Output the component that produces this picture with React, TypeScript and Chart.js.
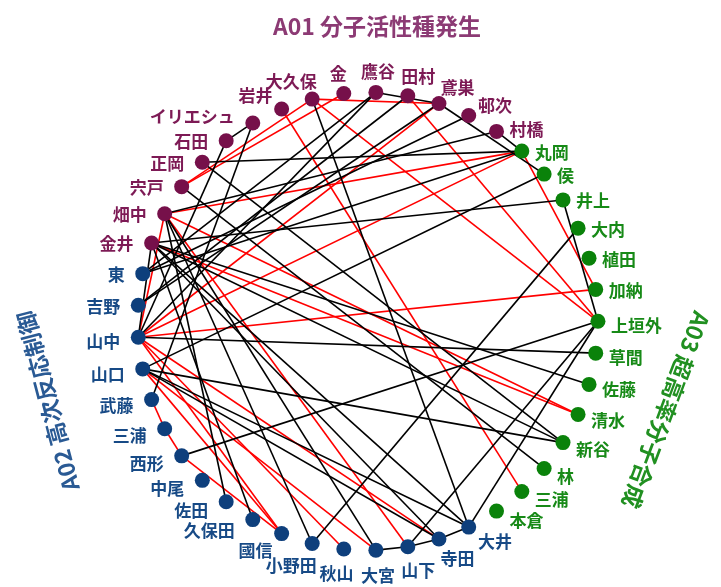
import React, { useEffect, useRef } from "react";
import { Chart, registerables } from "chart.js";

Chart.register(...registerables);

// ---- data ----
const nodeIds = [
  "金井", "畑中", "宍戸", "正岡", "石田", "イリエシュ", "岩井", "大久保", "金", "鷹谷", "田村", "鳶巣", "邨次", "村橋",
  "丸岡", "侯", "井上", "大内", "植田", "加納", "上垣外", "草間", "佐藤", "清水", "新谷", "林", "三浦(A03)", "本倉",
  "大井", "寺田", "山下", "大宮", "秋山", "小野田", "國信", "久保田", "佐田", "中尾", "西形", "三浦(A02)", "武藤", "山口", "山中", "吉野", "東",
];
const nodeLabels = nodeIds.map((s) => s.replace(/\(A0\d\)/, ""));
const nodeGroups = [
  "A01", "A01", "A01", "A01", "A01", "A01", "A01", "A01", "A01", "A01", "A01", "A01", "A01", "A01",
  "A03", "A03", "A03", "A03", "A03", "A03", "A03", "A03", "A03", "A03", "A03", "A03", "A03", "A03",
  "A02", "A02", "A02", "A02", "A02", "A02", "A02", "A02", "A02", "A02", "A02", "A02", "A02", "A02", "A02", "A02", "A02",
];
const groupTitles = ["A01 分子活性種発生", "A02 高次反応制御", "A03 超高率分子合成"];

const blackEdges: [string, string][] = [
  ["金井", "井上"], ["井上", "上垣外"], ["大内", "小野田"], ["上垣外", "西形"], ["上垣外", "山下"],
  ["上垣外", "大井"], ["山中", "草間"], ["金井", "佐藤"], ["金井", "新谷"], ["山口", "新谷"],
  ["宍戸", "林"], ["侯", "山口"], ["鳶巣", "侯"], ["村橋", "丸岡"], ["正岡", "丸岡"],
  ["村橋", "畑中"], ["邨次", "東"], ["鳶巣", "吉野"], ["石田", "イリエシュ"], ["イリエシュ", "武藤"],
  ["鷹谷", "鳶巣"], ["金井", "大井"], ["大久保", "大井"], ["大宮", "山下"], ["山下", "寺田"],
  ["寺田", "大井"], ["小野田", "畑中"], ["丸岡", "東"], ["畑中", "佐田"], ["金井", "久保田"],
  ["山口", "寺田"], ["鷹谷", "山中"], ["鷹谷", "東"], ["田村", "吉野"], ["石田", "山中"],
  ["金井", "山中"], ["畑中", "大宮"], ["金井", "寺田"], ["正岡", "新谷"], ["山口", "大井"],
];
const redEdges: [string, string][] = [
  ["大久保", "鳶巣"], ["田村", "上垣外"], ["大久保", "上垣外"], ["丸岡", "加納"], ["丸岡", "畑中"],
  ["丸岡", "山中"], ["加納", "山中"], ["畑中", "清水"], ["金井", "清水"], ["岩井", "三浦(A03)"],
  ["山中", "寺田"], ["山中", "秋山"], ["畑中", "山下"], ["大久保", "宍戸"], ["金", "宍戸"],
  ["武藤", "三浦(A02)"], ["三浦(A02)", "西形"], ["西形", "國信"], ["山口", "國信"], ["山中", "國信"],
  ["畑中", "山中"], ["山口", "大宮"], ["鳶巣", "山中"],
];

// ---- layout / style ----
const W = 721;
const H = 587;
const CX = 368;
const CY = 322;
const R = 235;
const START_DEG = 160;
const STEP_DEG = 360 / nodeIds.length;

const dotColors: Record<string, string> = { A01: "#76104a", A02: "#0e3f7c", A03: "#0a820a" };
const textColors: Record<string, string> = { A01: "#7d1a55", A02: "#174a86", A03: "#178a17" };
const titleColors = ["#8c3a74", "#2a5a94", "#219021"];
const FONT = '"Noto Sans CJK JP", "Noto Sans", sans-serif';

function angleOf(i: number) {
  return ((START_DEG - STEP_DEG * i) * Math.PI) / 180;
}
function posOf(i: number) {
  const a = angleOf(i);
  return { x: Math.cos(a), y: Math.sin(a) };
}
const idx = (id: string) => nodeIds.indexOf(id);
const clamp = (v: number, lo: number, hi: number) => Math.max(lo, Math.min(hi, v));

const labelPlugin = {
  id: "nodeLabels",
  afterDatasetsDraw(chart: any) {
    const { ctx, scales } = chart;
    const xs = scales.x;
    const ys = scales.y;
    ctx.save();
    ctx.font = `bold 17px ${FONT}`;
    ctx.textBaseline = "middle";
    ctx.textAlign = "center";
    nodeIds.forEach((_, i) => {
      const p = posOf(i);
      const px = xs.getPixelForValue(p.x);
      const py = ys.getPixelForValue(p.y);
      const c = p.x;
      const s = p.y;
      const text = nodeLabels[i];
      const w = ctx.measureText(text).width;
      const hx = clamp(2 * c, -1, 1);
      const k = c < 0 ? 18 : 13;
      const cx = px + hx * (w / 2 + k);
      let dy = 0;
      if (s > 0) dy = -22 * clamp((s - 0.8) / 0.2, 0, 1);
      else dy = 3 + 6 * -s + 15 * clamp((-s - 0.85) / 0.15, 0, 1);
      ctx.fillStyle = textColors[nodeGroups[i]];
      ctx.fillText(text, cx, py + dy + 1);
    });
    // group titles
    ctx.font = `bold 23px ${FONT}`;
    const titles = [
      { t: groupTitles[0], x: 377, y: 26, rot: 0, c: titleColors[0] },
      { t: groupTitles[1], x: 48, y: 401, rot: -104.8, c: titleColors[1] },
      { t: groupTitles[2], x: 666, y: 410, rot: 110.5, c: titleColors[2] },
    ];
    titles.forEach((tt) => {
      ctx.save();
      ctx.translate(tt.x, tt.y);
      ctx.rotate((tt.rot * Math.PI) / 180);
      ctx.fillStyle = tt.c;
      ctx.textAlign = "center";
      ctx.textBaseline = "middle";
      ctx.fillText(tt.t, 0, 0);
      ctx.restore();
    });
    ctx.restore();
  },
};

export default function App() {
  const ref = useRef<HTMLCanvasElement | null>(null);
  useEffect(() => {
    if (!ref.current) return;
    const edgeSet = (list: [string, string][], color: string) =>
      list.map(([a, b]) => ({
        type: "line" as const,
        data: [posOf(idx(a)), posOf(idx(b))],
        borderColor: color,
        borderWidth: 1.6,
        pointRadius: 0,
        showLine: true,
        fill: false,
        order: 2,
      }));
    const datasets: any[] = [
      ...edgeSet(blackEdges, "#000000"),
      ...edgeSet(redEdges, "#ff0000"),
      {
        type: "scatter",
        data: nodeIds.map((_, i) => posOf(i)),
        pointRadius: 7.5,
        pointHoverRadius: 7.5,
        pointBackgroundColor: nodeGroups.map((g) => dotColors[g]),
        pointBorderColor: nodeGroups.map((g) => dotColors[g]),
        pointBorderWidth: 0,
        order: 1,
      },
    ];
    const chart = new Chart(ref.current, {
      type: "scatter",
      data: { datasets },
      options: {
        responsive: false,
        animation: false,
        devicePixelRatio: 1,
        layout: { padding: 0 },
        plugins: { legend: { display: false }, tooltip: { enabled: false } },
        scales: {
          x: { type: "linear", display: false, min: -CX / R, max: (W - CX) / R },
          y: { type: "linear", display: false, min: -(H - CY) / R, max: CY / R },
        },
      },
      plugins: [labelPlugin],
    });
    return () => chart.destroy();
  }, []);
  return (
    <div style={{ position: "absolute", left: 0, top: 0, width: W, height: H, background: "#fff" }}>
      <canvas ref={ref} width={W} height={H} />
    </div>
  );
}
